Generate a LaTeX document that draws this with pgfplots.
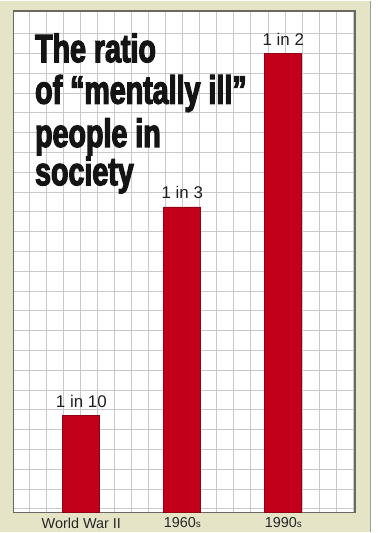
\documentclass[border=0pt]{standalone}
\usepackage{pgfplots}
\pgfplotsset{compat=1.18}
\usepackage{fontspec}
\setmainfont{Liberation Sans}
\newfontfamily\titlefont[FakeStretch=0.72,FakeBold=3]{Liberation Sans}
\definecolor{beige}{RGB}{230,228,198}
\definecolor{barred}{RGB}{194,0,26}
\definecolor{framegray}{RGB}{105,105,100}
\begin{document}
\begin{tikzpicture}
\fill[white] (0bp,0bp) rectangle (378bp,-533bp);
\fill[beige] (0bp,0bp) rectangle (371bp,-533bp);
\draw[gray!75, line width=1.3bp] (371.5bp,0bp) -- (371.5bp,-533bp);
% grid background
\begin{axis}[at={(13.5bp,-10bp)}, anchor=north west, scale only axis,
  width=342bp, height=503bp,
  xmin=13.5, xmax=355.5, ymin=-513, ymax=-10,
  axis background/.style={fill=white},
  xtick={29.3,46.4,...,355}, ytick={-509.5,-489.65,...,-25},
  grid=major, major grid style={gray!42, line width=1bp},
  xticklabels={}, yticklabels={}, major tick length=0pt,
  axis line style={draw=none}]
\end{axis}
% bars
\begin{axis}[at={(13.5bp,-10bp)}, anchor=north west, scale only axis,
  width=342bp, height=503bp,
  xmin=-0.672, xmax=2.706, ymin=0, ymax=54.7,
  ybar, bar width=37bp,
  axis line style={framegray, line width=1.8bp},
  xtick={0,1,2},
  xticklabels={World War II, 1960{\fontsize{10}{10}\selectfont s}, 1990{\fontsize{10}{10}\selectfont s}},
  ytick=\empty, major tick length=0pt,
  xticklabel style={font=\fontsize{14.5}{15}\selectfont, inner sep=0pt, anchor=north, yshift=-5bp, text=black!85},
  nodes near coords, point meta=explicit symbolic,
  every node near coord/.append style={font=\fontsize{17}{17}\selectfont, text=black!88, anchor=base, inner sep=0pt, yshift=8bp}]
\addplot[fill=barred, draw=barred!75!black, line width=0.8bp] coordinates {(0,10.6)[1 in 10] (1,33.3)[1 in 3] (2,50)[1 in 2]};
\end{axis}
\begin{scope}[every node/.style={anchor=base west, inner sep=0pt, text=black!92, font=\titlefont\bfseries\fontsize{40}{41}\selectfont}]
\node at (35bp,-61.7bp) {The ratio};
\node at (35bp,-103.3bp) {of “mentally ill”};
\node at (35bp,-146.7bp) {people in};
\node at (35bp,-185bp) {society};
\end{scope}
\end{tikzpicture}
\end{document}
